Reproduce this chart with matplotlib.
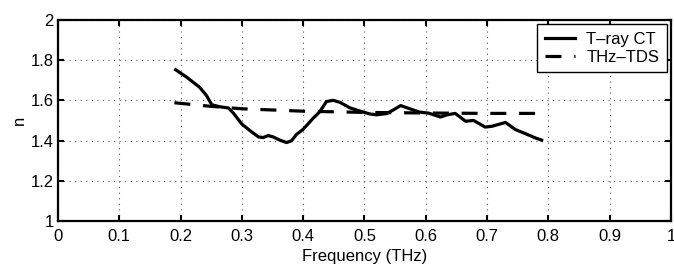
import numpy as np
import matplotlib.pyplot as plt

plt.rcParams['font.family'] = ['Liberation Sans', 'DejaVu Sans']

# T-ray CT measurement
ct_freq = [0.192, 0.210, 0.231, 0.242, 0.251, 0.264, 0.278, 0.286, 0.300, 0.313,
           0.327, 0.335, 0.343, 0.351, 0.362, 0.373, 0.381, 0.389, 0.400, 0.416,
           0.427, 0.438, 0.449, 0.460, 0.476, 0.492, 0.509, 0.520, 0.536, 0.547,
           0.559, 0.573, 0.589, 0.605, 0.624, 0.635, 0.648, 0.665, 0.678, 0.697,
           0.708, 0.730, 0.746, 0.762, 0.778, 0.789]
ct_n = [1.752, 1.715, 1.665, 1.625, 1.578, 1.568, 1.562, 1.537, 1.482, 1.450,
        1.418, 1.415, 1.425, 1.418, 1.402, 1.390, 1.399, 1.430, 1.456, 1.510,
        1.543, 1.594, 1.600, 1.590, 1.563, 1.547, 1.532, 1.528, 1.534, 1.552,
        1.574, 1.559, 1.542, 1.536, 1.517, 1.528, 1.535, 1.496, 1.500, 1.467,
        1.471, 1.490, 1.455, 1.435, 1.414, 1.402]

# THz-TDS measurement
tds_freq = [0.19, 0.25, 0.30, 0.40, 0.50, 0.60, 0.70, 0.79]
tds_n = [1.588, 1.570, 1.558, 1.546, 1.540, 1.537, 1.535, 1.535]

fig = plt.figure(figsize=(6.74, 2.65), dpi=100)
ax = fig.add_axes([0.086, 0.166, 0.9095, 0.759])

ax.plot(ct_freq, ct_n, color='black', lw=2.3, label='T\u2013ray CT')
ax.plot(tds_freq, tds_n, color='black', lw=2.3, dashes=(5, 4), label='THz\u2013TDS')

ax.set_xlim(0, 1)
ax.set_ylim(1, 2)
ax.set_xticks(np.arange(0, 1.01, 0.1))
ax.set_xticklabels(['0', '0.1', '0.2', '0.3', '0.4', '0.5', '0.6', '0.7', '0.8', '0.9', '1'])
ax.set_yticks([1, 1.2, 1.4, 1.6, 1.8, 2])
ax.set_yticklabels(['1', '1.2', '1.4', '1.6', '1.8', '2'])
ax.tick_params(direction='in', length=4, width=1.5, labelsize=12,
               top=True, right=True)
ax.tick_params(axis='x', pad=6)
ax.tick_params(axis='y', pad=3)
for s in ax.spines.values():
    s.set_linewidth(1.6)
ax.grid(True, linestyle=(0, (1, 4)), color='0.35', linewidth=0.8)

ax.set_xlabel('Frequency (THz)', fontsize=12, labelpad=3)
ax.set_ylabel('n', fontsize=12, labelpad=3)

leg = ax.legend(loc='upper right', fontsize=12, frameon=True, fancybox=False,
                borderaxespad=0.25, handlelength=1.8, borderpad=0.45,
                labelspacing=0.2, handletextpad=0.7)
leg.get_frame().set_edgecolor('black')
leg.get_frame().set_linewidth(1.0)
leg.get_frame().set_alpha(1)

fig.savefig('out.png', dpi=100)
